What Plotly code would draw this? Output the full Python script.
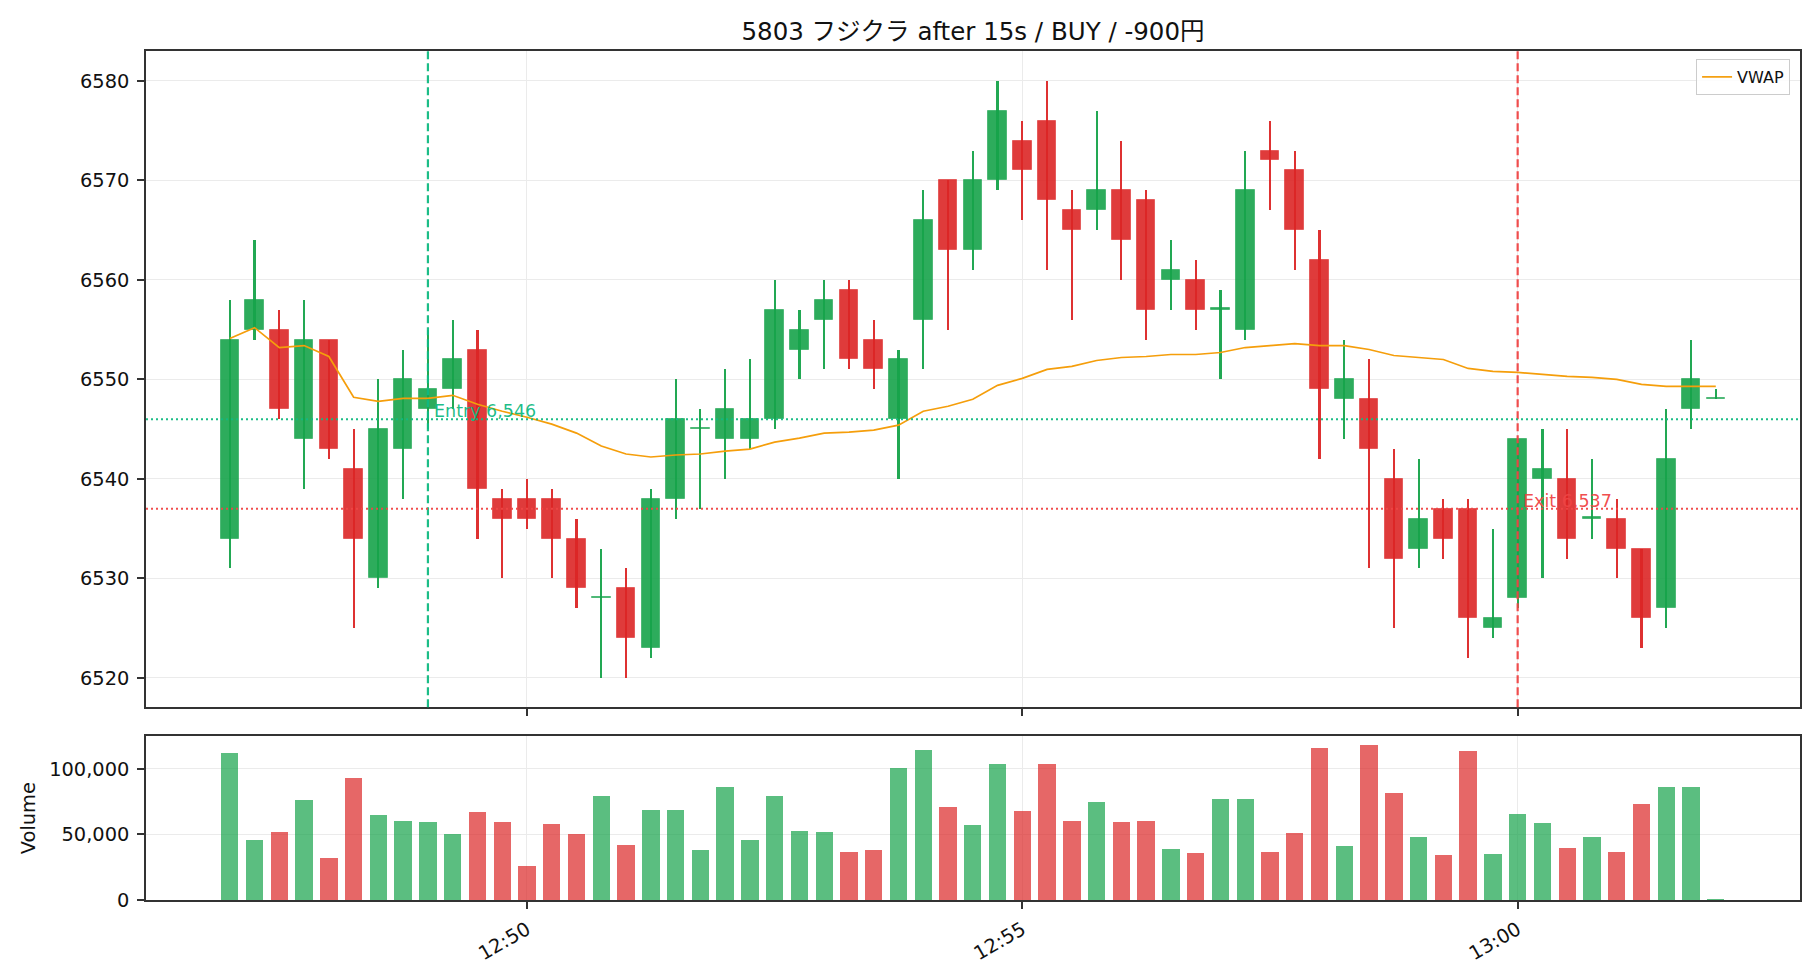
import pandas as pd
import plotly.graph_objects as go

# ---------------- data ----------------
start_time = "2025-01-06 12:47:00"
n_bars = 61
times = pd.date_range(start_time, periods=n_bars, freq="15s")

opens = [6534, 6555, 6555, 6544, 6554, 6541, 6530, 6543, 6547, 6549,
         6553, 6538, 6538, 6538, 6534, 6528, 6529, 6523, 6538, 6545,
         6544, 6544, 6546, 6553, 6556, 6559, 6554, 6546, 6556, 6570,
         6563, 6570, 6574, 6576, 6567, 6567, 6569, 6568, 6560, 6560,
         6557, 6555, 6573, 6571, 6562, 6548, 6548, 6540, 6533, 6537,
         6537, 6525, 6528, 6540, 6540, 6536, 6536, 6533, 6527, 6547,
         6548]
highs = [6558, 6564, 6557, 6558, 6554, 6545, 6550, 6553, 6555, 6556,
         6555, 6539, 6540, 6539, 6536, 6533, 6531, 6539, 6550, 6547,
         6551, 6552, 6560, 6557, 6560, 6560, 6556, 6553, 6569, 6570,
         6573, 6580, 6576, 6580, 6569, 6577, 6574, 6569, 6564, 6562,
         6559, 6573, 6576, 6573, 6565, 6554, 6552, 6543, 6542, 6538,
         6538, 6535, 6544, 6545, 6545, 6542, 6538, 6533, 6547, 6554,
         6549]
lows = [6531, 6554, 6546, 6539, 6542, 6525, 6529, 6538, 6545, 6547,
        6534, 6530, 6535, 6530, 6527, 6520, 6520, 6522, 6536, 6537,
        6540, 6543, 6545, 6550, 6551, 6551, 6549, 6540, 6551, 6555,
        6561, 6569, 6566, 6561, 6556, 6565, 6560, 6554, 6557, 6555,
        6550, 6554, 6567, 6561, 6542, 6544, 6531, 6525, 6531, 6532,
        6522, 6524, 6527, 6530, 6532, 6534, 6530, 6523, 6525, 6545,
        6548]
closes = [6554, 6558, 6547, 6554, 6543, 6534, 6545, 6550, 6549, 6552,
          6539, 6536, 6536, 6534, 6529, 6528, 6524, 6538, 6546, 6545,
          6547, 6546, 6557, 6555, 6558, 6552, 6551, 6552, 6566, 6563,
          6570, 6577, 6571, 6568, 6565, 6569, 6564, 6557, 6561, 6557,
          6557, 6569, 6572, 6565, 6549, 6550, 6543, 6532, 6536, 6534,
          6526, 6526, 6544, 6541, 6534, 6536, 6533, 6526, 6542, 6550,
          6548]
volumes = [112100, 45500, 51500, 75800, 31800, 92400, 64400, 59800, 59100, 50000,
           66700, 59100, 25800, 57600, 50000, 78800, 41700, 68200, 68200, 37900,
           85600, 45500, 78800, 52300, 51500, 36400, 37900, 100000, 114400, 70500,
           56800, 103000, 67400, 103000, 59800, 74200, 59100, 59800, 38600, 35600,
           76500, 76500, 36400, 50800, 115200, 40900, 118200, 81100, 47700, 34100,
           113600, 34800, 65200, 58300, 39400, 47700, 36400, 72700, 85600, 85600,
           500]
vwap = [6554.1, 6555.2, 6553.2, 6553.4, 6552.3, 6548.2, 6547.8, 6548.1, 6548.1, 6548.4,
        6547.5, 6546.8, 6546.2, 6545.5, 6544.6, 6543.3, 6542.5, 6542.2, 6542.4, 6542.5,
        6542.8, 6543.0, 6543.7, 6544.1, 6544.6, 6544.7, 6544.9, 6545.4, 6546.8, 6547.3,
        6548.0, 6549.4, 6550.1, 6551.0, 6551.3, 6551.9, 6552.2, 6552.3, 6552.5, 6552.5,
        6552.7, 6553.2, 6553.4, 6553.6, 6553.4, 6553.4, 6553.0, 6552.4, 6552.2, 6552.0,
        6551.1, 6550.8, 6550.7, 6550.5, 6550.3, 6550.2, 6550.0, 6549.5, 6549.3, 6549.3,
        6549.3]

entry_index = 8
entry_price = 6546
exit_index = 52
exit_price = 6537
title_text = "5803 フジクラ after 15s / BUY / -900円"
y_ticks = [6520, 6530, 6540, 6550, 6560, 6570, 6580]
vol_ticks = [0, 50000, 100000]

# ---------------- styles ----------------
FONT = "DejaVu Sans, Noto Sans CJK JP, sans-serif"
GREEN = (22, 163, 74)
RED = (220, 38, 38)
ENTRY_C = "rgba(16,185,129,0.95)"
EXIT_C = "rgba(239,68,68,0.95)"
VWAP_C = "#f59e0b"
TXT = "#111111"


def rgba(c, a):
    return f"rgba({c[0]},{c[1]},{c[2]},{a})"


up = [c >= o for o, c in zip(opens, closes)]
wick_col = [rgba(GREEN if u else RED, 0.95) for u in up]
body_col = [rgba(GREEN if u else RED, 0.9) for u in up]
edge_col = [rgba(GREEN if u else RED, 0.55) for u in up]
vol_col = [rgba(GREEN if u else RED, 0.7) for u in up]

body_base = [min(o, c) for o, c in zip(opens, closes)]
body_h = [max(abs(c - o), 0.15) for o, c in zip(opens, closes)]
wick_h = [h - l for h, l in zip(highs, lows)]

fig = go.Figure()

# wicks
fig.add_trace(go.Bar(x=times, y=wick_h, base=lows, width=1300,
                     marker=dict(color=wick_col, line=dict(width=0)),
                     showlegend=False, hoverinfo="skip", xaxis="x", yaxis="y"))
# bodies
fig.add_trace(go.Bar(x=times, y=body_h, base=body_base, width=11250,
                     marker=dict(color=body_col, line=dict(color=edge_col, width=1)),
                     showlegend=False, hoverinfo="skip", xaxis="x", yaxis="y"))
# VWAP
fig.add_trace(go.Scatter(x=times, y=vwap, mode="lines", name="VWAP",
                         line=dict(color=VWAP_C, width=1.7), xaxis="x", yaxis="y"))
# volume
fig.add_trace(go.Bar(x=times, y=volumes, width=10500,
                     marker=dict(color=vol_col, line=dict(width=0)),
                     showlegend=False, hoverinfo="skip", xaxis="x2", yaxis="y2"))

# entry / exit lines
fig.add_shape(type="line", xref="x", yref="y domain", x0=times[entry_index], x1=times[entry_index],
              y0=0, y1=1, line=dict(color=ENTRY_C, width=2.2, dash="8px,4px"))
fig.add_shape(type="line", xref="x", yref="y domain", x0=times[exit_index], x1=times[exit_index],
              y0=0, y1=1, line=dict(color=EXIT_C, width=2.2, dash="8px,4px"))
fig.add_shape(type="line", xref="x domain", yref="y", x0=0, x1=1, y0=entry_price, y1=entry_price,
              line=dict(color=ENTRY_C, width=1.9, dash="2px,3px"))
fig.add_shape(type="line", xref="x domain", yref="y", x0=0, x1=1, y0=exit_price, y1=exit_price,
              line=dict(color=EXIT_C, width=1.9, dash="2px,3px"))

fig.add_annotation(x=times[entry_index], y=entry_price, xref="x", yref="y",
                   text=f"Entry {entry_price:,}", showarrow=False, xanchor="left", yanchor="bottom",
                   xshift=4, yshift=-4, font=dict(family=FONT, size=17.5, color=ENTRY_C))
fig.add_annotation(x=times[exit_index], y=exit_price, xref="x", yref="y",
                   text=f"Exit {exit_price:,}", showarrow=False, xanchor="left", yanchor="bottom",
                   xshift=3, yshift=-4, font=dict(family=FONT, size=17.5, color=EXIT_C))

x_range = ["2025-01-06 12:46:09.25", "2025-01-06 13:02:51"]
axis_common = dict(showline=True, linecolor="#333333", linewidth=1.6, mirror=True,
                   ticks="outside", ticklen=7, tickwidth=1.5, tickcolor="#333333",
                   showgrid=True, gridcolor="#ebebeb", gridwidth=1.4, zeroline=False,
                   tickfont=dict(family=FONT, size=19.4, color=TXT))

fig.update_layout(
    width=1820, height=980,
    margin=dict(l=146, r=20, t=51, b=80),
    paper_bgcolor="white", plot_bgcolor="white",
    barmode="overlay", bargap=0,
    font=dict(family=FONT, color=TXT),
    title=dict(text=title_text, x=0.5, xref="paper", xanchor="center",
               y=1 - 31 / 980, yref="container", yanchor="middle",
               font=dict(family=FONT, size=24.5, color=TXT)),
    showlegend=True,
    legend=dict(x=0.994, y=0.9906, xanchor="right", yanchor="top",
                bordercolor="#cccccc", borderwidth=1, bgcolor="rgba(255,255,255,0.85)",
                font=dict(family=FONT, size=16, color=TXT),
                itemwidth=30, tracegroupgap=0),
    xaxis=dict(axis_common, domain=[0, 1], anchor="y", type="date", range=x_range,
               showticklabels=False, dtick=300000, tick0="2025-01-06 12:50:00"),
    yaxis=dict(axis_common, domain=[0.227, 1], anchor="x", range=[6517.05, 6583.0],
               tickvals=y_ticks, ticklabelstandoff=4),
    xaxis2=dict(axis_common, domain=[0, 1], anchor="y2", type="date", range=x_range,
                matches="x", dtick=300000, tick0="2025-01-06 12:50:00",
                tickformat="%H:%M", tickangle=-30, ticklabelstandoff=2),
    yaxis2=dict(axis_common, domain=[0, 0.1928], anchor="x2", range=[0, 124700],
                tickvals=vol_ticks, tickformat=",d", ticklabelstandoff=4,
                title=dict(text="Volume", standoff=8, font=dict(family=FONT, size=19.4, color=TXT))),
)

fig.write_html("out.html")
